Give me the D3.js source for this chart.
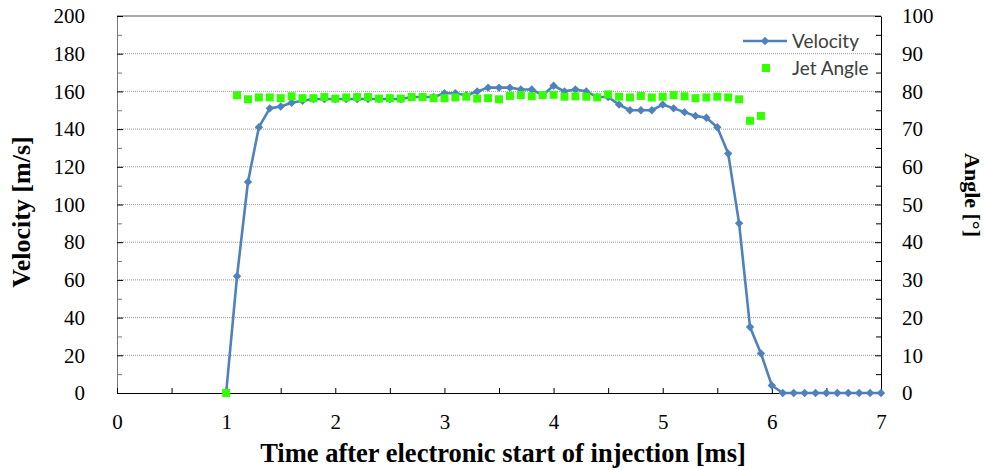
<!DOCTYPE html>
<html>
<head>
<meta charset="utf-8">
<script src="https://cdn.jsdelivr.net/npm/d3@7"></script>
<style>
  body { margin: 0; background: #fff; }
  svg text { font-family: "Liberation Serif", "Times New Roman", serif; }
  .tick text { font-family: "Liberation Serif", serif !important; font-size: 21px !important; }
  .legend-text { font-family: Lato, "Open Sans", sans-serif !important; }
</style>
</head>
<body>
<svg id="chart"></svg>
<script>
// data
const velTimes = [1.0, 1.1, 1.2, 1.3, 1.4, 1.5, 1.6, 1.7, 1.8, 1.9,
  2.0, 2.1, 2.2, 2.3, 2.4, 2.5, 2.6, 2.7, 2.8, 2.9,
  3.0, 3.1, 3.2, 3.3, 3.4, 3.5, 3.6, 3.7, 3.8, 3.9,
  4.0, 4.1, 4.2, 4.3, 4.4, 4.5, 4.6, 4.7, 4.8, 4.9,
  5.0, 5.1, 5.2, 5.3, 5.4, 5.5, 5.6, 5.7, 5.8, 5.9,
  6.0, 6.1, 6.2, 6.3, 6.4, 6.5, 6.6, 6.7, 6.8, 6.9, 7.0];
const velocity = [0, 62, 112, 141, 151, 152, 154, 155, 156, 156,
  156, 156, 156, 156, 156, 156, 156, 157, 157, 157,
  159, 159, 158, 160, 162, 162, 162, 161, 161, 158,
  163, 160, 161, 160, 157, 157, 153, 150, 150, 150,
  153, 151, 149, 147, 146, 141, 127, 90, 35, 21,
  4, 0, 0, 0, 0, 0, 0, 0, 0, 0, 0];

const angleTimes = [1.0, 1.1, 1.2, 1.3, 1.4, 1.5, 1.6, 1.7, 1.8, 1.9,
  2.0, 2.1, 2.2, 2.3, 2.4, 2.5, 2.6, 2.7, 2.8, 2.9,
  3.0, 3.1, 3.2, 3.3, 3.4, 3.5, 3.6, 3.7, 3.8, 3.9,
  4.0, 4.1, 4.2, 4.3, 4.4, 4.5, 4.6, 4.7, 4.8, 4.9,
  5.0, 5.1, 5.2, 5.3, 5.4, 5.5, 5.6, 5.7, 5.8, 5.9];
const jetAngle = [0, 79.0, 77.9, 78.4, 78.4, 78.2, 78.7, 78.2, 78.2, 78.5,
  78.1, 78.4, 78.5, 78.5, 78.1, 78.2, 78.1, 78.5, 78.5, 78.2,
  78.2, 78.4, 78.6, 78.1, 78.2, 77.9, 78.8, 79.0, 78.7, 79.0,
  79.1, 78.6, 78.7, 78.6, 78.4, 79.2, 78.6, 78.4, 78.8, 78.4,
  78.6, 79.0, 78.7, 78.2, 78.4, 78.6, 78.4, 77.9, 72.2, 73.5];

const xTicks = [0, 1, 2, 3, 4, 5, 6, 7];
const velTicks = [0, 20, 40, 60, 80, 100, 120, 140, 160, 180, 200];
const angleTicks = [0, 10, 20, 30, 40, 50, 60, 70, 80, 90, 100];

// Margin Convention
let margins = { top: 16, right: 104, bottom: 77, left: 117 };
let outerWidth = 985;
let outerHeight = 470;
let innerWidth = outerWidth - margins.left - margins.right;
let innerHeight = outerHeight - margins.top - margins.bottom;

let svg = d3.select("#chart")
  .attr("width", outerWidth)
  .attr("height", outerHeight);

let g = svg.append("g")
  .attr("transform", "translate(" + margins.left + "," + margins.top + ")");

let xScale = d3.scaleLinear().domain([0, 7]).range([0, innerWidth]);
let yScale = d3.scaleLinear().domain([0, 200]).range([innerHeight, 0]);
let y2Scale = d3.scaleLinear().domain([0, 100]).range([innerHeight, 0]);

// gridlines (dotted)
g.append("g")
  .selectAll("line")
  .data(velTicks.filter((d) => d > 0 && d < 200))
  .enter()
  .append("line")
  .attr("x1", 0)
  .attr("x2", innerWidth)
  .attr("y1", (d) => yScale(d))
  .attr("y2", (d) => yScale(d))
  .style("stroke", "#9a9a9a")
  .style("stroke-width", 1)
  .style("stroke-dasharray", "1,1");

// top border
g.append("line")
  .attr("x1", 0).attr("x2", innerWidth)
  .attr("y1", 0).attr("y2", 0)
  .style("stroke", "#555");

// minor ticks
g.append("g")
  .call(d3.axisLeft(yScale).tickValues(d3.range(10, 200, 20)).tickSize(-5).tickFormat(""))
  .call((a) => a.select(".domain").remove())
  .selectAll("line").style("stroke", "#777");
g.append("g")
  .attr("transform", "translate(" + innerWidth + ",0)")
  .call(d3.axisRight(y2Scale).tickValues(d3.range(5, 100, 10)).tickSize(-5).tickFormat(""))
  .call((a) => a.select(".domain").remove());
g.append("g")
  .attr("transform", "translate(0," + innerHeight + ")")
  .call(d3.axisBottom(xScale).tickValues(d3.range(0.5, 7, 1)).tickSize(-5).tickFormat(""))
  .call((a) => a.select(".domain").remove());

// left axis
let leftAxis = g.append("g")
  .call(d3.axisLeft(yScale).tickValues(velTicks).tickFormat(d3.format("d"))
    .tickSizeInner(-6).tickSizeOuter(0).tickPadding(32));
leftAxis.select(".domain").style("stroke", "#777");

// right axis
g.append("g")
  .attr("transform", "translate(" + innerWidth + ",0)")
  .call(d3.axisRight(y2Scale).tickValues(angleTicks).tickFormat(d3.format("d"))
    .tickSizeInner(-6).tickSizeOuter(0).tickPadding(21));

// bottom axis
g.append("g")
  .attr("transform", "translate(0," + innerHeight + ")")
  .call(d3.axisBottom(xScale).tickValues(xTicks).tickFormat(d3.format("d"))
    .tickSizeInner(-5).tickSizeOuter(0).tickPadding(21));

// velocity line
let velData = velTimes.map((t, i) => ({ t: t, v: velocity[i] }));
let line = d3.line().x((d) => xScale(d.t)).y((d) => yScale(d.v));

g.append("path")
  .datum(velData)
  .attr("d", line)
  .style("fill", "none")
  .style("stroke", "#4f81bd")
  .style("stroke-width", 2.6)
  .style("stroke-linejoin", "round");

let diamond = d3.symbol().type(d3.symbolDiamond2).size(45);

g.append("g")
  .selectAll("path")
  .data(velData)
  .enter()
  .append("path")
  .attr("d", diamond)
  .attr("transform", (d) => "translate(" + xScale(d.t) + "," + yScale(d.v) + ")")
  .style("fill", "#4f81bd");

// jet angle squares
let angleData = angleTimes.map((t, i) => ({ t: t, a: jetAngle[i] }));
let sq = 8;
g.append("g")
  .selectAll("rect")
  .data(angleData)
  .enter()
  .append("rect")
  .attr("x", (d) => xScale(d.t) - sq / 2)
  .attr("y", (d) => y2Scale(d.a) - sq / 2)
  .attr("width", sq)
  .attr("height", sq)
  .style("fill", "#33ff00");

// legend
let legend = svg.append("g").attr("transform", "translate(743,41)");
legend.append("line")
  .attr("x1", 0).attr("x2", 44)
  .attr("y1", 0).attr("y2", 0)
  .style("stroke", "#4f81bd")
  .style("stroke-width", 2.6);
legend.append("path")
  .attr("d", diamond)
  .attr("transform", "translate(22,0)")
  .style("fill", "#4f81bd");
legend.append("text")
  .attr("class", "legend-text")
  .attr("x", 49).attr("y", 6.5)
  .style("font-size", "19px")
  .style("fill", "#404040")
  .text("Velocity");
legend.append("rect")
  .attr("x", 23 - sq / 2).attr("y", 27 - sq / 2)
  .attr("width", sq).attr("height", sq)
  .style("fill", "#33ff00");
legend.append("text")
  .attr("class", "legend-text")
  .attr("x", 49).attr("y", 33.5)
  .style("font-size", "19px")
  .style("fill", "#404040")
  .text("Jet Angle");

// axis titles
svg.append("text")
  .attr("x", 503)
  .attr("y", 462)
  .attr("text-anchor", "middle")
  .style("font-size", "26.5px")
  .style("font-weight", "bold")
  .text("Time after electronic start of injection [ms]");

svg.append("text")
  .attr("transform", "translate(30,212) rotate(-90)")
  .attr("text-anchor", "middle")
  .style("font-size", "26px")
  .style("font-weight", "bold")
  .text("Velocity [m/s]");

svg.append("text")
  .attr("transform", "translate(965,195) rotate(90)")
  .attr("text-anchor", "middle")
  .style("font-size", "22px")
  .style("font-weight", "bold")
  .text("Angle [°]");
</script>
</body>
</html>
